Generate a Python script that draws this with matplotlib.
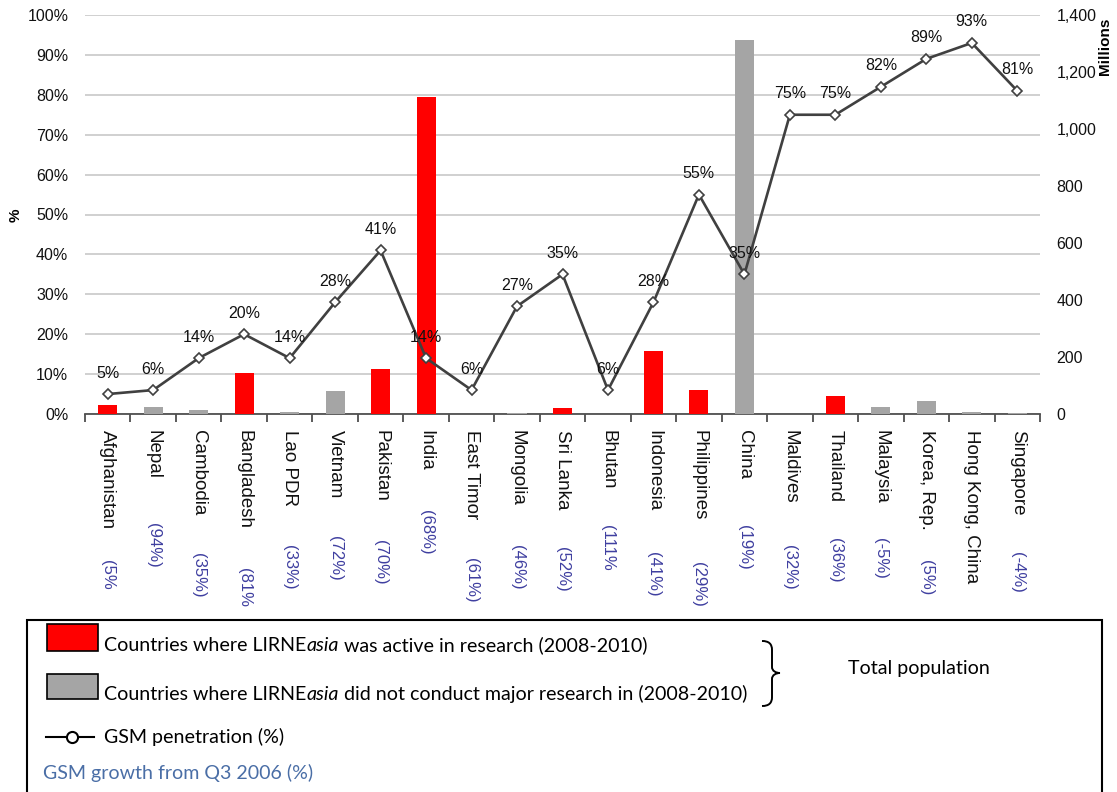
import matplotlib
matplotlib.use("Agg")
import matplotlib.pyplot as plt
import numpy as np
from matplotlib.patches import Rectangle, PathPatch
from matplotlib.path import Path
from matplotlib.lines import Line2D
from matplotlib.ticker import FuncFormatter
import matplotlib.transforms as mtransforms

# ---------------- data ----------------
countries = ["Afghanistan", "Nepal", "Cambodia", "Bangladesh", "Lao PDR", "Vietnam",
             "Pakistan", "India", "East Timor", "Mongolia", "Sri Lanka", "Bhutan",
             "Indonesia", "Philippines", "China", "Maldives", "Thailand", "Malaysia",
             "Korea, Rep.", "Hong Kong, China", "Singapore"]
population_millions = [33, 25, 14, 144, 6, 82, 158, 1112, 1.1, 2.7, 20, 0.7,
                       221, 84, 1312, 0.3, 64, 25, 46, 7, 4.6]
research_active = [True, False, False, True, False, False, True, True, False, False,
                   True, False, True, True, False, True, True, False, False, False, False]
gsm_penetration = [5, 6, 14, 20, 14, 28, 41, 14, 6, 27, 35, 6, 28, 55, 35, 75, 75,
                   82, 89, 93, 81]
gsm_growth_labels = ["(5%", "(94%)", "(35%)", "(81%", "(33%)", "(72%)", "(70%)",
                     "(68%)", "(61%)", "(46%)", "(52%)", "(111%", "(41%)", "(29%)",
                     "(19%)", "(32%)", "(36%)", "(-5%)", "(5%)", "", "(-4%)"]

# ---------------- layout (pixels) ----------------
growth_label_drop_px = [146, 109, 139, 154, 131, 122, 126, 96, 144, 131, 133, 111,
                        138, 148, 111, 131, 124, 124, 146, 0, 138]

W, H = 1117, 792
DPI = 100
fig = plt.figure(figsize=(W / DPI, H / DPI), dpi=DPI)
fig.patch.set_facecolor("white")

def fx(px):
    return px / W

def fy(py):
    return 1 - py / H

RED = "#FF0000"
GRAY = "#A5A5A5"
LINE = "#404040"
FONT = "Liberation Sans"
LFONT = "Lato"

ax_l, ax_r, ax_t, ax_b = 85, 1040, 15, 414
ax = fig.add_axes([fx(ax_l), fy(ax_b), fx(ax_r - ax_l), (ax_b - ax_t) / H])
ax2 = ax.twinx()
ax3 = ax.twinx()

x = np.arange(len(countries))
n = len(countries)

# grid / percent axis
ax.set_xlim(-0.5, n - 0.5)
ax.set_ylim(0, 1.0)
ax.set_yticks(np.arange(0, 1.01, 0.1))
ax.yaxis.set_major_formatter(FuncFormatter(lambda v, p: f"{v*100:.0f}%"))
ax.grid(axis="y", color="#C8C8C8", linewidth=1.2)
ax.set_axisbelow(True)
ax.tick_params(axis="y", length=0, pad=12, labelsize=11.5, labelcolor="#111111")
for lab in ax.get_yticklabels():
    lab.set_fontfamily(FONT)
ax.set_xticks(np.arange(-0.5, n, 1.0))
ax.set_xticklabels([])
ax.tick_params(axis="x", length=6, width=1.2, color="#404040", direction="out")
for s in ["top", "left", "right"]:
    ax.spines[s].set_visible(False)
ax.spines["bottom"].set_color("#505050")
ax.spines["bottom"].set_linewidth(1.3)

# bars on right axis
bar_colors = [RED if r else GRAY for r in research_active]
ax2.bar(x, population_millions, width=0.42, color=bar_colors, zorder=2)
ax2.set_ylim(0, 1400)
ax2.set_yticks(np.arange(0, 1401, 200))
ax2.yaxis.set_major_formatter(FuncFormatter(lambda v, p: f"{v:,.0f}"))
ax2.tick_params(axis="y", length=0, pad=12, labelsize=11.5, labelcolor="#111111")
for lab in ax2.get_yticklabels():
    lab.set_fontfamily(FONT)
for s in ax2.spines.values():
    s.set_visible(False)

# line on top
ax3.set_ylim(0, 100)
ax3.plot(x, gsm_penetration, color=LINE, linewidth=1.9, marker="D", markersize=5,
         markerfacecolor="white", markeredgecolor=LINE, markeredgewidth=1.2,
         zorder=3, clip_on=False)
for xi, v in zip(x, gsm_penetration):
    ax3.annotate(f"{v}%", (xi, v), xytext=(0, 21), textcoords="offset pixels",
                 ha="center", va="center", fontsize=11.5, fontfamily=FONT, color="#111111")
ax3.set_yticks([])
for s in ax3.spines.values():
    s.set_visible(False)

# country labels and growth labels
name_tr = mtransforms.offset_copy(ax.get_xaxis_transform(), fig=fig, x=0, y=-16, units="dots")
for xi, name in zip(x, countries):
    ax.text(xi, 0, name, transform=name_tr, rotation=-90, ha="center", va="top",
            fontsize=13.5, fontfamily=FONT, color="#111111")
for xi, lab, drop in zip(x, gsm_growth_labels, growth_label_drop_px):
    if not lab:
        continue
    tr = mtransforms.offset_copy(ax.get_xaxis_transform(), fig=fig, x=0, y=-drop, units="dots")
    ax.text(xi, 0, lab, transform=tr, rotation=-90, ha="center", va="top",
            fontsize=12, fontfamily=FONT, color="#3F3FA0")

# axis titles
fig.text(fx(16), fy(215), "%", rotation=90, ha="center", va="center",
         fontsize=11, fontweight="bold", fontfamily=FONT)
fig.text(fx(1105), fy(46), "Millions", rotation=90, ha="center", va="center",
         fontsize=11, fontweight="bold", fontfamily=FONT)

# ---------------- legend box ----------------
fig.add_artist(Rectangle((fx(27), fy(800)), fx(1102 - 27), (800 - 620) / H,
                         transform=fig.transFigure, facecolor="none",
                         edgecolor="black", linewidth=1.5))
fig.add_artist(Rectangle((fx(47), fy(651)), fx(51), 27 / H, transform=fig.transFigure,
                         facecolor=RED, edgecolor="black", linewidth=1.2))
fig.add_artist(Rectangle((fx(47), fy(699)), fx(51), 25 / H, transform=fig.transFigure,
                         facecolor=GRAY, edgecolor="black", linewidth=1.2))

renderer = fig.canvas.get_renderer()
LFS = 14.1

def rich_line(xpx, ypx, parts, color="black"):
    xcur = fx(xpx)
    for txt, style in parts:
        t = fig.text(xcur, fy(ypx), txt, ha="left", va="baseline", fontsize=LFS,
                     fontfamily=LFONT, fontstyle=style, color=color)
        bb = t.get_window_extent(renderer=renderer)
        xcur = bb.x1 / W

rich_line(104, 651, [("Countries where LIRNE", "normal"), ("asia", "italic"),
                     (" was active in research (2008-2010)", "normal")])
rich_line(104, 700, [("Countries where LIRNE", "normal"), ("asia", "italic"),
                     (" did not conduct major research in (2008-2010)", "normal")])

fig.add_artist(Line2D([fx(46), fx(94)], [fy(737), fy(737)], transform=fig.transFigure,
                      color="black", linewidth=1.5, marker=None))
fig.add_artist(Line2D([fx(72)], [fy(737)], transform=fig.transFigure, color="black",
                      marker="o", markersize=8, markerfacecolor="white",
                      markeredgewidth=1.5, linestyle="none"))
fig.text(fx(104), fy(743), "GSM penetration (%)", ha="left", va="baseline",
         fontsize=LFS, fontfamily=LFONT)
fig.text(fx(43), fy(779), "GSM growth from Q3 2006 (%)", ha="left", va="baseline",
         fontsize=LFS, fontfamily=LFONT, color="#4A6EA6")
fig.text(fx(848), fy(674), "Total population", ha="left", va="baseline",
         fontsize=LFS, fontfamily=LFONT)

# brace
bp = [(762, 641), (769, 641), (772, 644), (772, 650), (772, 667), (772, 671), (776, 673),
      (780, 673), (776, 673), (772, 675), (772, 679), (772, 697), (772, 703), (769, 706),
      (762, 706)]
codes = [Path.MOVETO, Path.CURVE4, Path.CURVE4, Path.CURVE4, Path.LINETO, Path.CURVE4,
         Path.CURVE4, Path.CURVE4, Path.CURVE4, Path.CURVE4, Path.CURVE4, Path.LINETO,
         Path.CURVE4, Path.CURVE4, Path.CURVE4]
verts = [(fx(a), fy(b)) for a, b in bp]
fig.add_artist(PathPatch(Path(verts, codes), transform=fig.transFigure,
                         facecolor="none", edgecolor="black", linewidth=1.4))

fig.savefig("out.png", dpi=DPI)
